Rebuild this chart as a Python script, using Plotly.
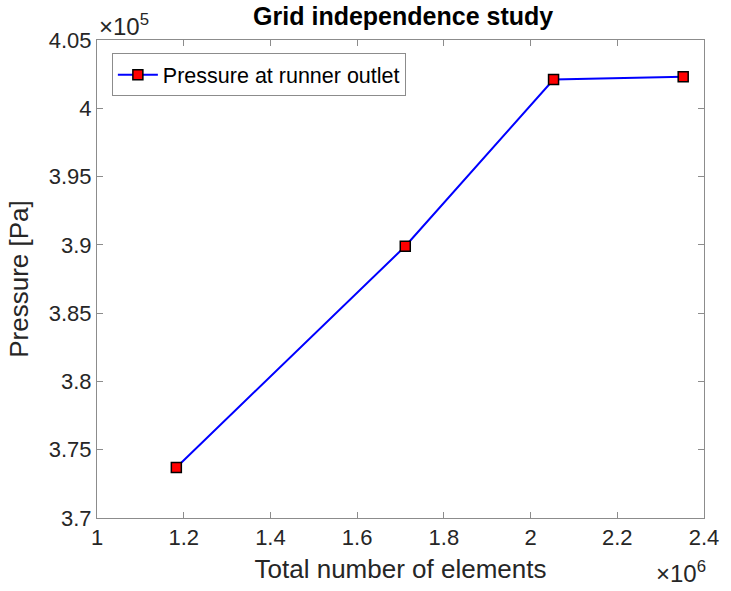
import plotly.graph_objects as go

# Mesh sizes (total elements) and resulting runner outlet pressure
elements = [1.183e6, 1.711e6, 2.053e6, 2.352e6]
pressure = [3.737e5, 3.899e5, 4.021e5, 4.023e5]

x_ticks = [1.0e6, 1.2e6, 1.4e6, 1.6e6, 1.8e6, 2.0e6, 2.2e6, 2.4e6]
x_ticktext = ["1", "1.2", "1.4", "1.6", "1.8", "2", "2.2", "2.4"]
y_ticks = [3.70e5, 3.75e5, 3.80e5, 3.85e5, 3.90e5, 3.95e5, 4.00e5, 4.05e5]
y_ticktext = ["3.7", "3.75", "3.8", "3.85", "3.9", "3.95", "4", "4.05"]

FONT = "Liberation Sans, Arial, Helvetica, sans-serif"
TXT = "#262626"
AX = "#8c8c8c"

fig = go.Figure()
fig.add_trace(go.Scatter(
    x=elements, y=pressure, mode="lines+markers",
    name="Pressure at runner outlet",
    line=dict(color="#0000ff", width=2),
    marker=dict(symbol="square", size=10, color="#ff0000",
                line=dict(color="#000000", width=1.5)),
))

axis_common = dict(
    showgrid=False, zeroline=False, showline=True, linecolor=AX, linewidth=1,
    mirror="ticks", ticks="inside", ticklen=6, tickcolor=AX,
    tickfont=dict(family=FONT, size=22, color=TXT),
)

fig.update_xaxes(range=[1.0e6, 2.4e6], tickvals=x_ticks, ticktext=x_ticktext,
                 title=dict(text="Total number of elements",
                            font=dict(family=FONT, size=26, color=TXT), standoff=10),
                 **axis_common)
fig.update_yaxes(range=[3.70e5, 4.05e5], tickvals=y_ticks, ticktext=y_ticktext,
                 title=dict(text="Pressure [Pa]",
                            font=dict(family=FONT, size=26, color=TXT), standoff=12),
                 **axis_common)

fig.update_layout(
    width=731, height=591,
    margin=dict(l=97, r=21, t=40, b=72),
    paper_bgcolor="white", plot_bgcolor="white",
    title=dict(text="<b>Grid independence study</b>", x=0.5515, xanchor="center",
               y=0.972, yanchor="middle",
               font=dict(family=FONT, size=25, color="#000000")),
    showlegend=True,
    legend=dict(x=0.0245, y=0.972, xanchor="left", yanchor="top",
                bgcolor="white", bordercolor=AX, borderwidth=1,
                font=dict(family=FONT, size=21.5, color="#000000"),
                itemwidth=40),
    annotations=[
        dict(text="×10<sup>5</sup>", xref="paper", yref="paper", x=0.0, y=1.0,
             xanchor="left", yanchor="bottom", showarrow=False, yshift=-2,
             font=dict(family=FONT, size=24, color=TXT)),
        dict(text="×10<sup>6</sup>", xref="paper", yref="paper", x=1.0, y=0.0,
             xanchor="right", yanchor="top", showarrow=False, yshift=-37, xshift=4,
             font=dict(family=FONT, size=24, color=TXT)),
    ],
)

fig.write_html("out.html")
